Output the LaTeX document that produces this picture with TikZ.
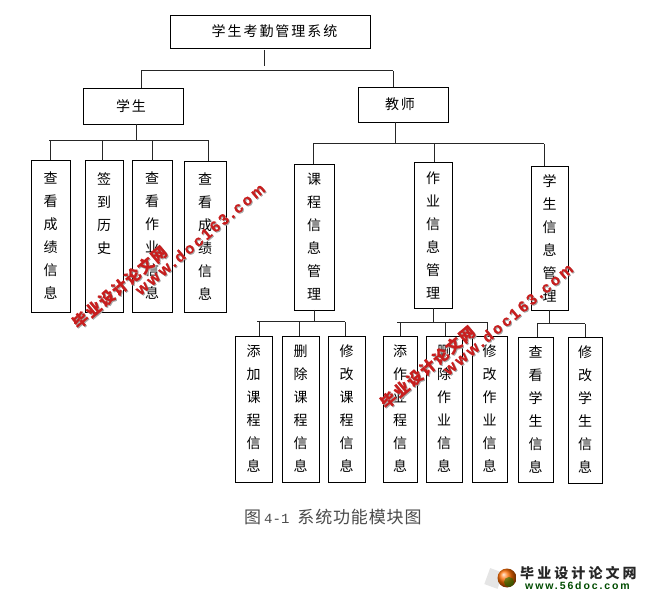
\documentclass[tikz,border=0pt]{standalone}
\usepackage{fontspec}
\usetikzlibrary{shadings}
\setmainfont{Liberation Serif}
\newfontfamily\cjk[LetterSpace=14]{Noto Sans CJK SC}
\newfontfamily\capfont[LetterSpace=5]{Noto Sans CJK SC}
\newfontfamily\capnum{Liberation Mono}
\newfontfamily\wmfont[LetterSpace=10,FakeBold=0.6]{Noto Sans CJK SC}
\newfontfamily\wmlat[LetterSpace=17,FakeBold=0.6]{Liberation Sans}
\newfontfamily\wmlogo[LetterSpace=22]{Noto Sans CJK SC}
\newfontfamily\logolat[LetterSpace=18]{Liberation Sans}
\definecolor{wmred}{RGB}{200,30,30}
\definecolor{capgray}{RGB}{75,75,75}
\tikzset{
  modbox/.style={draw=black,line width=0.9pt,fill=white,anchor=north west,inner sep=0pt,outer sep=0pt,align=center,font=\cjk\fontsize{14}{23}\selectfont},
  conn/.style={draw=black!85,line width=1pt},
  wmcn/.style={rotate=40,inner sep=0pt,text=wmred,font=\wmfont\bfseries\fontsize{15.5}{16}\selectfont},
  wmen/.style={rotate=40,inner sep=0pt,text=wmred,font=\wmlat\bfseries\fontsize{15.5}{16}\selectfont},
  wmshadow/.style={text=black!35},
}
\begin{document}
\begin{tikzpicture}[x=1pt,y=-1pt]
\useasboundingbox (0,0) rectangle (649,596);
\fill[white] (0,0) rectangle (649,596);
% top levels
\node[modbox,minimum width=200pt,minimum height=33pt] (sys) at (170,15) {\hspace*{9pt}学生考勤管理系统};
\node[modbox,minimum width=100pt,minimum height=36pt] (stu) at (83,88) {学生\hspace*{4pt}};
\node[modbox,minimum width=90pt,minimum height=35pt] (tea) at (358,87) {教师\hspace*{6pt}};
% student children
\node[modbox,minimum width=39pt,minimum height=152pt] (s1) at (31,160) {查\\看\\成\\绩\\信\\息};
\node[modbox,minimum width=38pt,minimum height=152pt] (s2) at (85,160) {签\\到\\历\\史\\~\\~};
\node[modbox,minimum width=40pt,minimum height=152pt] (s3) at (132,160) {查\\看\\作\\业\\信\\息};
\node[modbox,minimum width=42pt,minimum height=151pt] (s4) at (184,161) {查\\看\\成\\绩\\信\\息};
% teacher children
\node[modbox,minimum width=40pt,minimum height=146pt] (t1) at (294,164) {课\\程\\信\\息\\管\\理};
\node[modbox,minimum width=38pt,minimum height=146pt] (t2) at (414,162) {作\\业\\信\\息\\管\\理};
\node[modbox,minimum width=37pt,minimum height=144pt] (t3) at (531,166) {学\\生\\信\\息\\管\\理};
% bottom row
\node[modbox,minimum width=37pt,minimum height=146pt] (c1) at (235,336) {添\\加\\课\\程\\信\\息};
\node[modbox,minimum width=37pt,minimum height=146pt] (c2) at (282,336) {删\\除\\课\\程\\信\\息};
\node[modbox,minimum width=37pt,minimum height=146pt] (c3) at (328,336) {修\\改\\课\\程\\信\\息};
\node[modbox,minimum width=34pt,minimum height=146pt] (h1) at (383,336) {添\\作\\业\\程\\信\\息};
\node[modbox,minimum width=36pt,minimum height=146pt] (h2) at (426,336) {删\\除\\作\\业\\信\\息};
\node[modbox,minimum width=35pt,minimum height=146pt] (h3) at (472,336) {修\\改\\作\\业\\信\\息};
\node[modbox,minimum width=35pt,minimum height=145pt] (m1) at (518,337) {查\\看\\学\\生\\信\\息};
\node[modbox,minimum width=34pt,minimum height=146pt] (m2) at (568,337) {修\\改\\学\\生\\信\\息};
% buses
\coordinate (busTopL) at (141,71);
\coordinate (busTopR) at (393,71);
\coordinate (sysEnd) at (264,66);
\coordinate (busStuL) at (49,141);
\coordinate (busStuR) at (209,141);
\coordinate (busTeaL) at (313,144);
\coordinate (busTeaR) at (544,144);
\coordinate (busCouL) at (257,322);
\coordinate (busCouR) at (345,322);
\coordinate (busHomL) at (397,323);
\coordinate (busHomR) at (488,323);
\coordinate (busManL) at (537,324);
\coordinate (busManR) at (585,324);
% connectors
\draw[conn] ([xshift=-6pt,yshift=-2pt]sys.south) -- ([xshift=-6pt]sys.south |- sysEnd);
\draw[conn] (busTopL) -- (busTopR);
\draw[conn] (stu.north -| busTopL) -- (busTopL);
\draw[conn] (tea.north -| busTopR) -- (busTopR);
\draw[conn] (busStuL) -- (busStuR);
\draw[conn] ([xshift=3pt]stu.south) -- ([xshift=3pt]stu.south |- busStuL);
\foreach \n/\s in {s1/0,s2/-2,s3/0,s4/3}{\draw[conn] ([xshift=\s pt]\n.north) -- ([xshift=\s pt]\n.north |- busStuL);}
\draw[conn] (busTeaL) -- (busTeaR);
\draw[conn] ([xshift=-8pt]tea.south) -- ([xshift=-8pt]tea.south |- busTeaL);
\foreach \n/\s in {t1/-1,t2/1,t3/-5}{\draw[conn] ([xshift=\s pt]\n.north) -- ([xshift=\s pt]\n.north |- busTeaL);}
\draw[conn] (busCouL) -- (busCouR);
\draw[conn] (t1.south) -- (t1.south |- busCouL);
\foreach \n/\s in {c1/6,c2/-1,c3/-1}{\draw[conn] ([xshift=\s pt]\n.north) -- ([xshift=\s pt]\n.north |- busCouL);}
\draw[conn] (busHomL) -- (busHomR);
\draw[conn] (t2.south) -- (t2.south |- busHomL);
\foreach \n/\s in {h1/0,h2/1,h3/-2}{\draw[conn] ([xshift=\s pt]\n.north) -- ([xshift=\s pt]\n.north |- busHomL);}
\draw[conn] (busManL) -- (busManR);
\draw[conn] (t3.south) -- (t3.south |- busManL);
\foreach \n/\s in {m1/2,m2/0}{\draw[conn] ([xshift=\s pt]\n.north) -- ([xshift=\s pt]\n.north |- busManL);}
% caption
\node[inner sep=0pt,anchor=west,text=capgray,font=\capfont\fontsize{17}{17}\selectfont] (cap) at (244,517) {图\kern3pt{\capnum\fontsize{14}{17}\selectfont 4-1}\kern8pt 系统功能模块图};
% watermarks
\foreach \dx/\dy/\k in {0/0/a,308/80/b}{
  \node[wmcn,wmshadow] at (120.5+\dx,288+\dy) {毕业设计论文网};
  \node[wmcn] (wc\k) at (119.5+\dx,287+\dy) {毕业设计论文网};
  \node[wmen,wmshadow] at (201+\dx,240+\dy) {www.doc163.com};
  \node[wmen] (we\k) at (200+\dx,239+\dy) {www.doc163.com};
}
% logo
\fill[black!10,rotate around={-20:(494,578)}] (487,570) rectangle (501,587);
\shade[ball color=orange!85!red] (507,578) circle (9.5pt);
\fill[green!45!black,opacity=.5] (509,582) circle (5pt);
\node[inner sep=0pt,anchor=west,text=black!85,font=\wmlogo\bfseries\fontsize{14}{14}\selectfont] (logoa) at (520,573) {毕业设计论文网};
\node[inner sep=0pt,anchor=west,text=green!30!black,font=\logolat\bfseries\fontsize{10.5}{10}\selectfont] (logob) at (525,586) {www.56doc.com};
\end{tikzpicture}
\end{document}
